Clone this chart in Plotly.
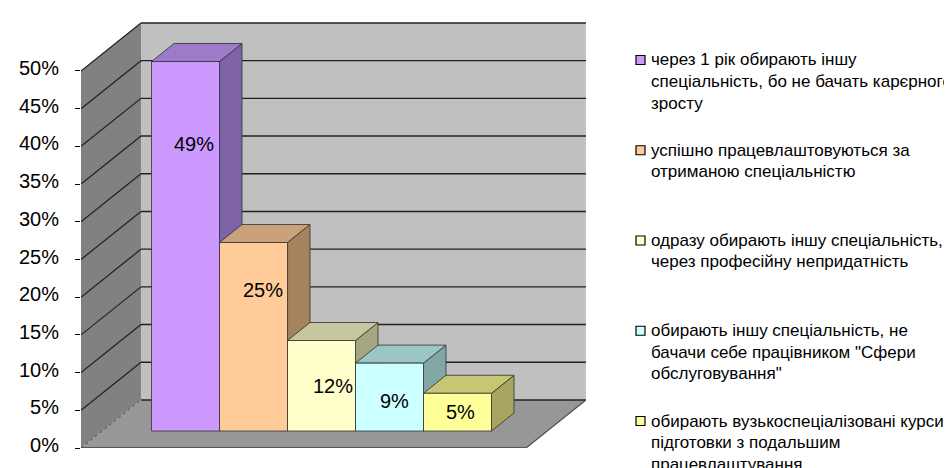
import plotly.graph_objects as go

# ---------------- data ----------------
categories = [
    "через 1 рік обирають іншу спеціальність, бо не бачать карєрного зросту",
    "успішно працевлаштовуються за отриманою спеціальністю",
    "одразу обирають іншу спеціальність, через професійну непридатність",
    "обирають іншу спеціальність, не бачачи себе працівником \"Сфери обслуговування\"",
    "обирають вузькоспеціалізовані курси підготовки з подальшим працевлаштування",
]
legend_lines = [
    ["через 1 рік обирають іншу", "спеціальність, бо не бачать карєрного", "зросту"],
    ["успішно працевлаштовуються за", "отриманою спеціальністю"],
    ["одразу обирають іншу спеціальність,", "через професійну непридатність"],
    ["обирають іншу спеціальність, не", "бачачи себе працівником \"Сфери", "обслуговування\""],
    ["обирають вузькоспеціалізовані курси", "підготовки з подальшим", "працевлаштування"],
]
values = [49, 25, 12, 9, 5]
value_labels = ["49%", "25%", "12%", "9%", "5%"]
tick_values = [0, 5, 10, 15, 20, 25, 30, 35, 40, 45, 50]
tick_labels = ["0%", "5%", "10%", "15%", "20%", "25%", "30%", "35%", "40%", "45%", "50%"]

# ---------------- styles ----------------
front_colors = ["#CC99FF", "#FFCC99", "#FFFFCC", "#CCFFFF", "#FFFF99"]
top_colors = ["#9D7BC9", "#C9A27C", "#C6C69F", "#9CC6C6", "#C6C674"]
side_colors = ["#7F63A8", "#A6835F", "#A5A584", "#82A6A6", "#A6A660"]
FONT = "Liberation Sans, Arial, sans-serif"

W, H = 952, 468
PL, PR, PT, PB = 73, 578, 13, 440          # plot area in pixels
X_RANGE = [-1.225, 6.202]
Y_RANGE = [0, 56.63]
DX, DY = 0.882, 6.37                         # depth vector of the 3-D box
FRONT_RIGHT = 5.32                           # right end of floor front edge
F0 = 0.354                                   # bar front position inside depth
FD = 0.375                                   # bar depth
BX0, BY0 = F0 * DX, F0 * DY
BDX, BDY = FD * DX, FD * DY

label_xshift = [8, 9, 11, 5, 3]
label_yshift = [-82, -48, -45, -38, -19]

LEG_FIRST_PX = 52
LEG_PITCH = 90.25
LEG_LINE = 21.5
LEG_MARK_X = 628
LEG_TEXT_X = 641
LEG_FONT_SIZE = 17


def px2paper_x(px):
    return (px - PL) / (PR - PL)


def px2paper_y(py):
    return (PB - py) / (PB - PT)


def poly(pts):
    return "M " + " L ".join(f"{x},{y}" for x, y in pts) + " Z"


shapes = []
xl, xb = X_RANGE[0], X_RANGE[0] + DX
xr = X_RANGE[1] - 0.001
top = tick_values[-1]

# back wall
shapes.append(dict(type="path", xref="x", yref="y", layer="below",
                   path=poly([(xb, DY), (xb, top + DY), (xr, top + DY), (xr, DY)]),
                   fillcolor="#C0C0C0", line=dict(width=0)))
# left wall
shapes.append(dict(type="path", xref="x", yref="y", layer="below",
                   path=poly([(xl, 0), (xl, top), (xb, top + DY), (xb, DY)]),
                   fillcolor="#818181", line=dict(width=0)))
# floor
shapes.append(dict(type="path", xref="x", yref="y", layer="below",
                   path=poly([(xl, 0), (FRONT_RIGHT, 0), (xr, DY), (xb, DY)]),
                   fillcolor="#979797", line=dict(width=0)))
# gridlines on back wall and left wall
for v in tick_values:
    shapes.append(dict(type="line", xref="x", yref="y", layer="below",
                       x0=xb, x1=xr, y0=v + DY, y1=v + DY,
                       line=dict(color="#202020", width=1.4)))
    if v > 0:
        shapes.append(dict(type="line", xref="x", yref="y", layer="below",
                           x0=xl, x1=xb, y0=v, y1=v + DY,
                           line=dict(color="#202020", width=1.2)))
shapes.append(dict(type="line", xref="x", yref="y", layer="below",
                   x0=xl, x1=xb, y0=0, y1=DY, line=dict(color="#505050", width=1, dash="dot")))
# floor front and right edges
shapes.append(dict(type="line", xref="x", yref="y", layer="below",
                   x0=xl, x1=FRONT_RIGHT, y0=0, y1=0, line=dict(color="#404040", width=1.6)))
shapes.append(dict(type="line", xref="x", yref="y", layer="below",
                   x0=FRONT_RIGHT, x1=xr, y0=0, y1=DY, line=dict(color="#505050", width=1.2)))

# bar sides and tops (drawn left to right)
for i, v in enumerate(values):
    L = i - 0.5 + BX0
    R = i + 0.5 + BX0
    b = BY0
    shapes.append(dict(type="path", xref="x", yref="y", layer="below",
                       path=poly([(R, b), (R, b + v), (R + BDX, b + v + BDY), (R + BDX, b + BDY)]),
                       fillcolor=side_colors[i], line=dict(color="#303030", width=0.8)))
    shapes.append(dict(type="path", xref="x", yref="y", layer="below",
                       path=poly([(L, b + v), (R, b + v), (R + BDX, b + v + BDY), (L + BDX, b + v + BDY)]),
                       fillcolor=top_colors[i], line=dict(color="#303030", width=0.8)))

# legend markers
for i, c in enumerate(front_colors):
    cy = LEG_FIRST_PX + i * LEG_PITCH
    shapes.append(dict(type="rect", xref="paper", yref="paper",
                       x0=px2paper_x(LEG_MARK_X), x1=px2paper_x(LEG_MARK_X + 9),
                       y0=px2paper_y(cy + 4.5), y1=px2paper_y(cy - 4.5),
                       fillcolor=c, line=dict(color="#000000", width=1.2)))

fig = go.Figure()
fig.add_trace(go.Bar(
    x=[i + BX0 for i in range(len(values))],
    y=values,
    base=[BY0] * len(values),
    width=[1] * len(values),
    marker=dict(color=front_colors, line=dict(color="#303030", width=0.8)),
    hovertext=categories,
    hoverinfo="text+y",
    showlegend=False,
))

annotations = []
for i, v in enumerate(values):
    annotations.append(dict(x=i + BX0, y=BY0 + v, xref="x", yref="y",
                            text=value_labels[i], showarrow=False,
                            xshift=label_xshift[i], yshift=label_yshift[i],
                            font=dict(family=FONT, size=20, color="#000000")))
for i, lines in enumerate(legend_lines):
    for j, t in enumerate(lines):
        cy = LEG_FIRST_PX + i * LEG_PITCH + j * LEG_LINE
        annotations.append(dict(x=px2paper_x(LEG_TEXT_X), y=px2paper_y(cy),
                                xref="paper", yref="paper", xanchor="left", yanchor="middle",
                                align="left", text=t, showarrow=False,
                                font=dict(family=FONT, size=LEG_FONT_SIZE, color="#000000")))

fig.update_layout(
    width=W, height=H, autosize=False,
    margin=dict(l=PL, r=W - PR, t=PT, b=H - PB, pad=0),
    paper_bgcolor="#FFFFFF", plot_bgcolor="rgba(0,0,0,0)",
    shapes=shapes, annotations=annotations,
    showlegend=False,
    xaxis=dict(range=X_RANGE, visible=False, fixedrange=True),
    yaxis=dict(range=Y_RANGE, tickvals=tick_values, ticktext=tick_labels,
               ticks="outside", ticklen=5, tickwidth=1.3, tickcolor="#000000",
               showgrid=False, zeroline=False, showline=False,
               ticklabelstandoff=12, ticklabelshift=-3,
               tickfont=dict(family=FONT, size=20, color="#000000"),
               fixedrange=True),
    font=dict(family=FONT),
)

fig.write_html("out.html")
